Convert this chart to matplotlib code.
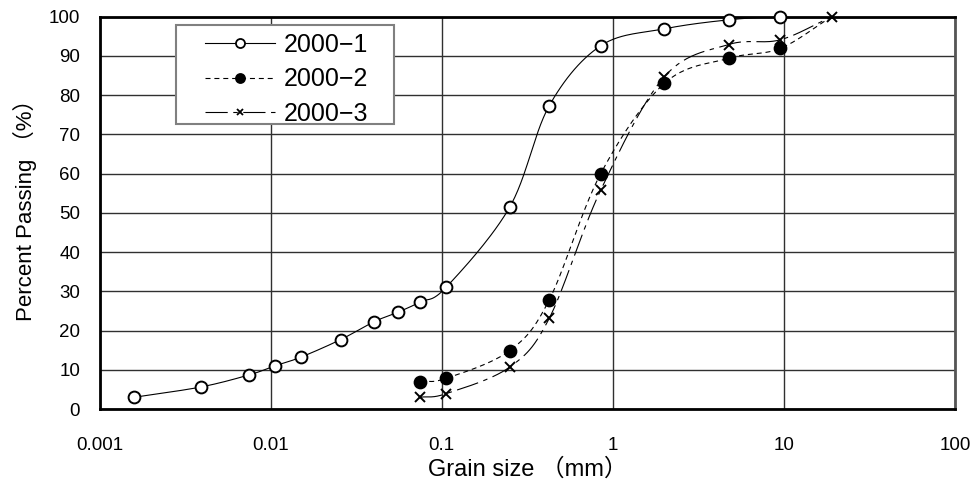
import numpy as np
import matplotlib
matplotlib.use("Agg")
import matplotlib.pyplot as plt
from matplotlib.patches import Rectangle

# grain size distribution
size_1 = [0.0016, 0.0039, 0.0075, 0.0106, 0.015, 0.0257, 0.040, 0.0557,
          0.075, 0.106, 0.25, 0.425, 0.85, 2.0, 4.75, 9.5, 19.0]
pass_1 = [3.0, 5.6, 8.7, 11.0, 13.2, 17.7, 22.2, 24.7,
          27.3, 31.0, 51.5, 77.3, 92.6, 96.9, 99.2, 100.0, 100.0]

sieve = [0.075, 0.106, 0.25, 0.425, 0.85, 2.0, 4.75, 9.5, 19.0]
pass_2 = [7.0, 7.8, 14.9, 27.8, 60.0, 83.0, 89.4, 91.9, 100.0]
pass_3 = [3.0, 3.9, 10.7, 23.1, 55.8, 84.7, 92.9, 94.1, 100.0]

labels = ["2000\u22121", "2000\u22122", "2000\u22123"]
x_ticks = [0.001, 0.01, 0.1, 1, 10, 100]
x_ticklabels = ["0.001", "0.01", "0.1", "1", "10", "100"]
y_ticks = list(range(0, 101, 10))


def smooth(xs, ys, n=30):
    # Catmull-Rom through the points in log-x space (like Excel's smoothed line)
    lx = np.log10(xs)
    ys = np.asarray(ys, float)
    px = np.concatenate([[2 * lx[0] - lx[1]], lx, [2 * lx[-1] - lx[-2]]])
    py = np.concatenate([[2 * ys[0] - ys[1]], ys, [2 * ys[-1] - ys[-2]]])
    out_x, out_y = [], []
    t = np.linspace(0, 1, n)
    for i in range(1, len(px) - 2):
        for p, out in ((px, out_x), (py, out_y)):
            p0, p1, p2, p3 = p[i - 1], p[i], p[i + 1], p[i + 2]
            c1 = p1 + (p2 - p0) / 6
            c2 = p2 - (p3 - p1) / 6
            out.extend((1 - t) ** 3 * p1 + 3 * (1 - t) ** 2 * t * c1
                       + 3 * (1 - t) * t ** 2 * c2 + t ** 3 * p2)
    return 10 ** np.array(out_x), np.array(out_y)


fig = plt.figure(figsize=(9.77, 4.82), dpi=100)
ax = fig.add_axes([99.5 / 977, 1 - 409 / 482, (955 - 99.5) / 977, (409 - 16.7) / 482])

styles = [
    dict(ls="-", marker="o", mfc="white", ms=8.5),
    dict(ls=(0, (4.5, 3.5)), marker="o", mfc="black", ms=8.5),
    dict(ls=(0, (20, 5, 4, 5)), marker="x", mfc="black", ms=7),
]
data = [(size_1, pass_1), (sieve, pass_2), (sieve, pass_3)]

handles = []
for k, ((xs, ys), st, lab) in enumerate(zip(data, styles, labels)):
    sx, sy = smooth(xs, ys)
    ax.plot(sx, sy, color="black", lw=0.8, ls=st["ls"], zorder=3)
    # the last point (19 mm, 100 %) only shows the x marker of 2000-3
    mx, my = (xs, ys) if k == 2 else (xs[:-1], ys[:-1])
    ax.plot(mx, my, ls="none", marker=st["marker"], ms=st["ms"],
            mfc=st["mfc"], mec="black", mew=1.4, zorder=4 + k * 0.1, clip_on=False)
    h, = ax.plot([], [], color="black", lw=0.8, ls=st["ls"], marker=st["marker"],
                 ms=st["ms"] - 2, mfc=st["mfc"], mec="black", mew=1.3)
    handles.append(h)

ax.set_xscale("log")
ax.set_xlim(0.001, 100)
ax.set_ylim(0, 100)
ax.set_xticks(x_ticks)
ax.set_xticklabels(x_ticklabels)
ax.set_yticks(y_ticks)
ax.xaxis.set_minor_locator(matplotlib.ticker.NullLocator())
ax.tick_params(axis="x", length=0, pad=20, labelsize=13.5)
ax.tick_params(axis="y", length=0, pad=14, labelsize=13.5)
for lbl in ax.get_xticklabels() + ax.get_yticklabels():
    lbl.set_family(["Liberation Sans", "DejaVu Sans"])

ax.grid(True, which="major", color="#303030", lw=1.0, zorder=1)
for sp in ax.spines.values():
    sp.set_linewidth(2.0)
    sp.set_color("black")
ax.spines["right"].set_color("#555555")

lab_font = ["Liberation Sans", "Noto Sans CJK JP", "DejaVu Sans"]
ax.set_xlabel("Grain size （mm）", fontsize=17, family=lab_font, labelpad=3)
ax.set_ylabel("Percent Passing （%）", fontsize=16, family=lab_font)
ax.yaxis.set_label_coords(-0.073, 0.52)

# legend: frame drawn separately to get Excel's wide box
ax.add_patch(Rectangle((176 / 977, 1 - 124 / 482), 218 / 977, 99 / 482,
                       transform=fig.transFigure, facecolor="white",
                       edgecolor="#808080", lw=1.5, zorder=5, clip_on=False))
leg = ax.legend(handles, labels, loc="upper left",
                bbox_to_anchor=(205 / 977, 1 - 33 / 482), bbox_transform=fig.transFigure,
                borderaxespad=0, borderpad=0, frameon=False,
                prop={"family": ["Liberation Sans", "DejaVu Sans"], "size": 18},
                handlelength=2.8, handletextpad=0.35, labelspacing=0.42)
leg.set_zorder(6)

fig.savefig("out.png", dpi=100)
